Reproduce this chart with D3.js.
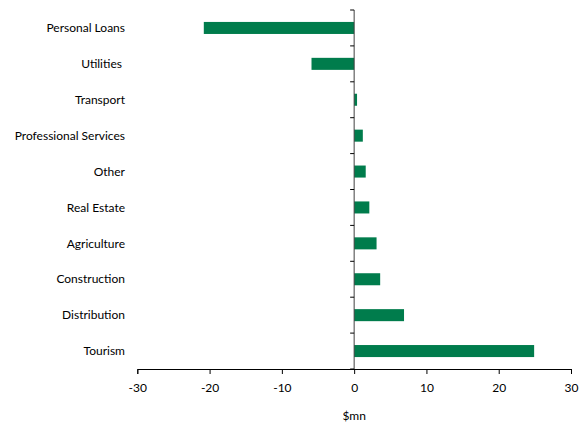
<!DOCTYPE html>
<html>
<head>
<meta charset="utf-8">
<script src="https://cdn.jsdelivr.net/npm/d3@7"></script>
<style>
  html, body { margin: 0; padding: 0; background: #fff; }
  svg text { font-family: Lato, "Open Sans", sans-serif; fill: #000; white-space: pre; }
</style>
</head>
<body>
<svg id="chart" width="582" height="423"></svg>
<script>
// Sectors, top to bottom, and their values in $mn
const categories = ["Personal Loans", "Utilities ", "Transport", "Professional Services", "Other",
  "Real Estate", "Agriculture", "Construction", "Distribution", "Tourism"];
const values = [-20.8, -5.9, 0.4, 1.2, 1.6, 2.1, 3.1, 3.6, 6.9, 24.9];
const xTicks = [-30, -20, -10, 0, 10, 20, 30];
const xTitle = "$mn";

const svg = d3.select("#chart");
const margin = { left: 137.3, right: 11, top: 10, bottom: 54 };
const W = 582, H = 423;

const x = d3.scaleLinear().domain([-30, 30]).range([margin.left, W - margin.right]);
const y = d3.scaleBand().domain(categories).range([margin.top, H - margin.bottom])
  .paddingInner(0.665).paddingOuter(0.3325);

// bars
svg.append("g").selectAll("rect").data(values).join("rect")
  .attr("x", d => x(Math.min(0, d)))
  .attr("width", d => Math.abs(x(d) - x(0)))
  .attr("y", (d, i) => y(categories[i]))
  .attr("height", y.bandwidth())
  .attr("fill", "#007c4c");

// category labels
svg.append("g").selectAll("text").data(categories).join("text")
  .attr("x", 125)
  .attr("y", d => y(d) + y.bandwidth() / 2)
  .attr("dy", "0.35em")
  .attr("text-anchor", "end")
  .style("font-size", "12px")
  .text(d => d);

// vertical axis at zero with category dividers
const step = y.step();
const yAxisG = svg.append("g");
yAxisG.append("line")
  .attr("x1", x(0)).attr("x2", x(0))
  .attr("y1", margin.top).attr("y2", H - margin.bottom)
  .attr("stroke", "#404040").attr("stroke-width", 1);
yAxisG.selectAll("line.tk").data(d3.range(categories.length + 1)).join("line")
  .attr("class", "tk")
  .attr("x1", x(0) - 4).attr("x2", x(0))
  .attr("y1", i => margin.top + i * step).attr("y2", i => margin.top + i * step)
  .attr("stroke", "#000").attr("stroke-width", 1);

// horizontal value axis
const xAxis = d3.axisBottom(x).tickValues(xTicks).tickSize(5).tickFormat(d3.format("d"));
const gx = svg.append("g")
  .attr("transform", `translate(0,${H - margin.bottom})`)
  .call(xAxis);
gx.select(".domain").attr("stroke", "#000");
gx.selectAll(".tick line").attr("stroke", "#000");
gx.selectAll(".tick text")
  .attr("y", 14)
  .style("font-family", "Lato, 'Open Sans', sans-serif")
  .style("font-size", "12px")
  .attr("fill", "#000")
  .text(d => d < 0 ? "-" + Math.abs(d) : d);

svg.append("text")
  .attr("x", x(0))
  .attr("y", 420)
  .attr("text-anchor", "middle")
  .style("font-size", "12px")
  .text(xTitle);
</script>
</body>
</html>
